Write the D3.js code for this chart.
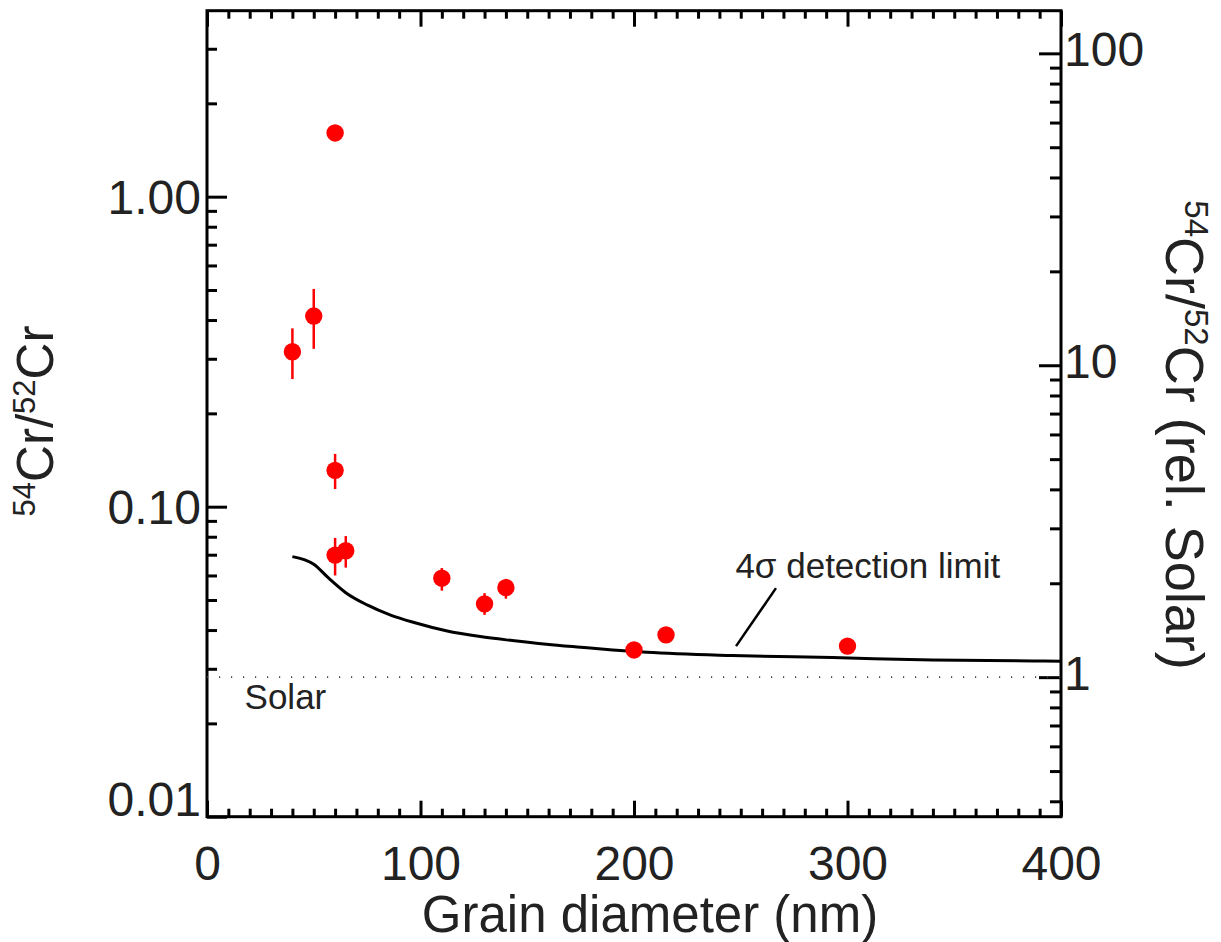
<!DOCTYPE html>
<html>
<head>
<meta charset="utf-8">
<script src="https://cdn.jsdelivr.net/npm/d3@7"></script>
<style>
  html, body { margin: 0; padding: 0; background: #fff; }
  svg { display: block; }
  text { font-family: "Liberation Sans", Arial, Helvetica, sans-serif; fill: #222; }
</style>
</head>
<body>
<svg id="chart" width="1221" height="942"></svg>
<script>
// ---------- data ----------
const diameters = [40, 50, 60, 60, 60, 65, 110, 130, 140, 200, 215, 300];
const ratios    = [0.316, 0.412, 1.605, 0.131, 0.0698, 0.0721, 0.0588, 0.0486, 0.0548, 0.0345, 0.0386, 0.0355];
const errLow    = [0.258, 0.323, 1.56, 0.114, 0.0600, 0.0636, 0.0536, 0.0448, 0.0505, 0.0335, 0.0376, 0.0347];
const errHigh   = [0.376, 0.504, 1.65, 0.148, 0.0793, 0.0804, 0.0634, 0.0526, 0.0585, 0.0355, 0.0396, 0.0363];

const limitDiam  = [40, 50, 57, 65, 75, 86, 97, 112, 128, 143, 159, 175, 190, 206, 246, 293, 340, 387, 400];
const limitRatio = [0.0690, 0.0652, 0.0588, 0.0528, 0.0482, 0.0447, 0.0423, 0.0398, 0.0381, 0.0370, 0.0360, 0.0352, 0.0345, 0.0339, 0.0331, 0.0326, 0.0320, 0.0318, 0.0317];

const solarRatio = 0.0282;

const xMajorTicks = [0, 100, 200, 300, 400];
const xMinorTicks = d3.range(0, 401, 10).filter(v => v % 100 !== 0);
const leftMajorTicks  = [0.01, 0.1, 1];
const leftTickLabels  = ["0.01", "0.10", "1.00"];
const leftMinorTicks  = [0.02,0.03,0.04,0.05,0.06,0.07,0.08,0.09, 0.2,0.3,0.4,0.5,0.6,0.7,0.8,0.9, 2,3];
const rightMajorTicks = [1, 10, 100];
const rightTickLabels = ["1", "10", "100"];
const rightMinorTicks = [0.4,0.5,0.6,0.7,0.8,0.9, 2,3,4,5,6,7,8,9, 20,30,40,50,60,70,80,90];

// ---------- layout ----------
const svg = d3.select("#chart");
const L = 207, R = 1061, T = 10.7, B = 816.7;

const x  = d3.scaleLinear().domain([0, 400]).range([L, R]);
const yL = d3.scaleLog().domain([0.01, 3.98]).range([B, T]);
const yR = d3.scaleLog().domain([0.357, 137]).range([B, T]);

const tickFont = 48;

function styleAxis(g) {
  g.selectAll("path.domain").remove();
  g.selectAll(".tick line").attr("stroke", "#000").attr("stroke-width", 3);
  g.selectAll(".tick text").attr("font-size", tickFont).attr("fill", "#222")
    .attr("font-family", '"Liberation Sans", Arial, sans-serif');
  g.attr("font-size", null).attr("font-family", null);
}

// bottom axis
svg.append("g").attr("transform", `translate(0,${B})`)
  .call(d3.axisBottom(x).tickValues(xMinorTicks).tickSizeInner(-8).tickSizeOuter(0).tickFormat(""))
  .call(styleAxis);
svg.append("g").attr("transform", `translate(0,${B})`)
  .call(d3.axisBottom(x).tickValues(xMajorTicks).tickSizeInner(-16).tickSizeOuter(0).tickPadding(29).tickFormat(d3.format("d")))
  .call(styleAxis);
// top axis
svg.append("g").attr("transform", `translate(0,${T})`)
  .call(d3.axisTop(x).tickValues(xMinorTicks).tickSizeInner(-8).tickSizeOuter(0).tickFormat(""))
  .call(styleAxis);
svg.append("g").attr("transform", `translate(0,${T})`)
  .call(d3.axisTop(x).tickValues(xMajorTicks).tickSizeInner(-16).tickSizeOuter(0).tickFormat(""))
  .call(styleAxis);

// left axis
svg.append("g").attr("transform", `translate(${L},0)`)
  .call(d3.axisLeft(yL).tickValues(leftMinorTicks).tickSizeInner(-10).tickSizeOuter(0).tickFormat(""))
  .call(styleAxis);
const leftAx = svg.append("g").attr("transform", `translate(${L},0)`)
  .call(d3.axisLeft(yL).tickValues(leftMajorTicks).tickSizeInner(-20).tickSizeOuter(0).tickPadding(6)
    .tickFormat((d, i) => leftTickLabels[i]))
  .call(styleAxis);
// keep lowest label inside the frame (label bottom sits on the axis)
leftAx.selectAll(".tick text").attr("dy", d => (yL(d) + 17 > B ? "-0.02em" : "0.34em"));

// right axis
svg.append("g").attr("transform", `translate(${R},0)`)
  .call(d3.axisRight(yR).tickValues(rightMinorTicks).tickSizeInner(-11).tickSizeOuter(0).tickFormat(""))
  .call(styleAxis);
svg.append("g").attr("transform", `translate(${R},0)`)
  .call(d3.axisRight(yR).tickValues(rightMajorTicks).tickSizeInner(-22).tickSizeOuter(0).tickPadding(3)
    .tickFormat((d, i) => rightTickLabels[i]))
  .call(styleAxis)
  .selectAll(".tick text").attr("dy", "0.25em");

// frame
svg.append("rect").attr("x", L).attr("y", T).attr("width", R - L).attr("height", B - T)
  .attr("fill", "none").attr("stroke", "#000").attr("stroke-width", 3);

// solar dotted line
svg.append("line")
  .attr("x1", x(0)).attr("x2", x(400))
  .attr("y1", yL(solarRatio)).attr("y2", yL(solarRatio))
  .attr("stroke", "#444").attr("stroke-width", 1.6).attr("stroke-dasharray", "1.2,10.8");
svg.append("text").attr("x", x(17.6)).attr("y", yL(0.0222))
  .attr("font-size", 35).text("Solar");

// detection limit curve
const line = d3.line().x(d => x(d[0])).y(d => yL(d[1])).curve(d3.curveMonotoneX);
svg.append("path")
  .datum(limitDiam.map((d, i) => [d, limitRatio[i]]))
  .attr("d", line).attr("fill", "none").attr("stroke", "#000").attr("stroke-width", 3);

// annotation
svg.append("line")
  .attr("x1", x(247.8)).attr("y1", yL(0.0355))
  .attr("x2", x(266.5)).attr("y2", yL(0.0546))
  .attr("stroke", "#000").attr("stroke-width", 2.5);
svg.append("text").attr("x", x(247.5)).attr("y", yL(0.0588))
  .attr("font-size", 35).text("4σ detection limit");

// error bars + points
const pts = diameters.map((d, i) => ({ d, r: ratios[i], lo: errLow[i], hi: errHigh[i] }));
svg.append("g").selectAll("line").data(pts).join("line")
  .attr("x1", p => x(p.d)).attr("x2", p => x(p.d))
  .attr("y1", p => yL(p.lo)).attr("y2", p => yL(p.hi))
  .attr("stroke", "#ff0000").attr("stroke-width", 2.5);
svg.append("g").selectAll("circle").data(pts).join("circle")
  .attr("cx", p => x(p.d)).attr("cy", p => yL(p.r)).attr("r", 8.7)
  .attr("fill", "#ff0000");

// axis titles
svg.append("text").attr("x", 650).attr("y", 932)
  .attr("text-anchor", "middle").attr("font-size", 51).text("Grain diameter (nm)");

function isoTitle(sel, extra, sup, shift) {
  sel.append("tspan").attr("font-size", sup).attr("dy", -shift).text("54");
  sel.append("tspan").attr("dy", shift).text("Cr/");
  sel.append("tspan").attr("font-size", sup).attr("dy", -shift).text("52");
  sel.append("tspan").attr("dy", shift).text("Cr" + extra);
}
const lt = svg.append("text").attr("font-size", 51).attr("text-anchor", "middle")
  .attr("transform", "translate(53,421) rotate(-90)");
isoTitle(lt, "", 31, 18);
const rt = svg.append("text").attr("font-size", 54).attr("text-anchor", "middle")
  .attr("transform", "translate(1166,435) rotate(90)");
isoTitle(rt, " (rel. Solar)", 33, 19);
</script>
</body>
</html>
